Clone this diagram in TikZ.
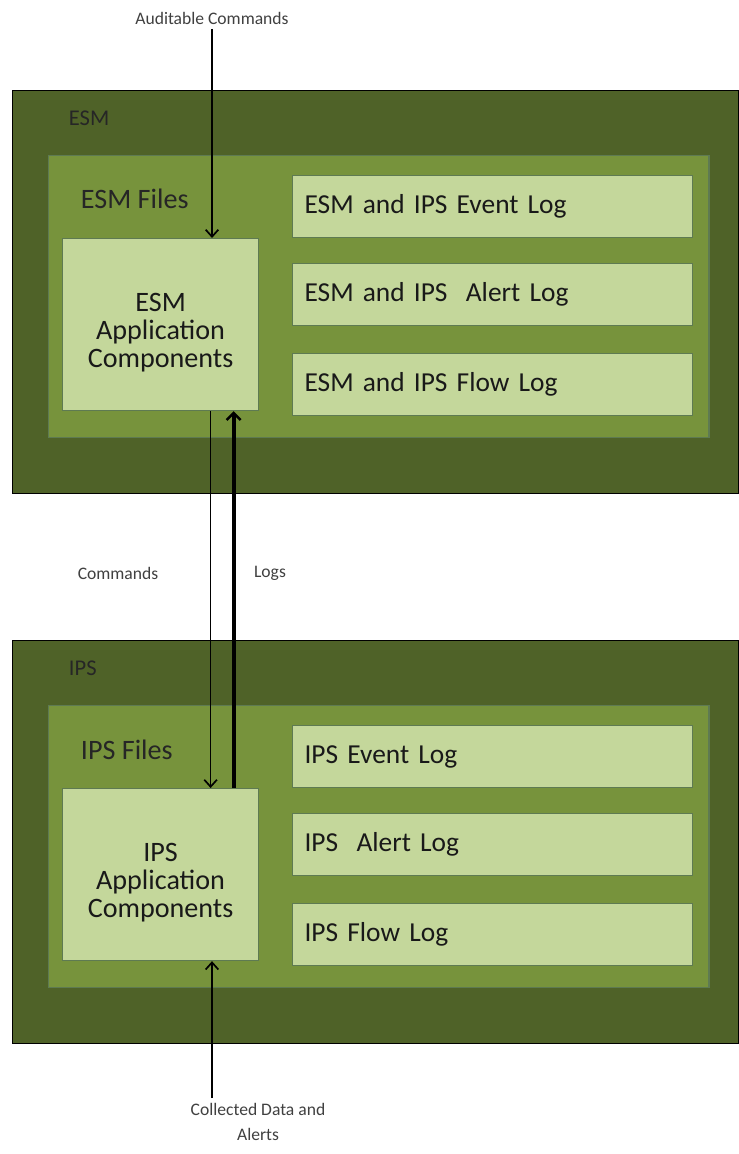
\documentclass[tikz,border=0pt]{standalone}
\usepackage{fontspec}
\setmainfont{Carlito}
\usetikzlibrary{arrows.meta}
\definecolor{oliveout}{HTML}{4F6228}
\definecolor{olivein}{HTML}{77933C}
\definecolor{olivelight}{HTML}{C4D79B}
\definecolor{oliveedge}{HTML}{5E7A52}
\begin{document}
\begin{tikzpicture}[x=0.025cm,y=-0.025cm,
outerbox/.style={draw=black, line width=0.6pt, fill=oliveout, anchor=north west,
  minimum width=18.15cm, minimum height=10.075cm, inner sep=0pt},
filesbox/.style={draw=oliveedge, line width=1pt, fill=olivein, anchor=north west,
  minimum width=16.5cm, minimum height=7.05cm, inner sep=0pt},
appbox/.style={draw=oliveedge, line width=0.8pt, fill=olivelight, anchor=north west,
  minimum width=4.9cm, minimum height=4.3cm, align=center,
  font=\fontsize{20}{20}\selectfont},
apptext/.style={align=center, font=\fontsize{20}{20}\selectfont, text=black!90},
logbox/.style={draw=oliveedge, line width=0.8pt, fill=olivelight, anchor=north west,
  minimum width=10cm, minimum height=1.55cm, text width=9.4cm, align=left,
  font=\fontsize{19.5}{22}\selectfont, text=black!90},
title/.style={anchor=west, font=\fontsize{16}{19}\selectfont, text=black!85},
note/.style={font=\fontsize{12.5}{18}\selectfont, text=black!75, align=center},
thin/.style={-{Straight Barb[length=5pt,width=9pt,line width=1.2pt]}, line width=0.8pt},
thick/.style={-{Straight Barb[length=5pt,width=10pt,line width=1.8pt]}, line width=2.8pt}
]
\useasboundingbox (0,0) rectangle (738,1154);

% ESM side
\node[outerbox] (esm) at (12,90) {};
\node[title] (esmlabel) at (64,118) {ESM};
\node[filesbox] (esmfiles) at (48,155) {};
\node[title, font=\fontsize{20}{22}\selectfont] (esmfileslabel) at (76,199) {ESM Files};
\node[appbox] (esmapp) at (62,238) {};
\node[apptext] (esmapptext) at ([yshift=-0.2cm]esmapp.center) {ESM\\Application\\Components};
\node[logbox] (esmevent) at (292,175) {ESM and IPS Event Log};
\node[logbox] (esmalert) at (292,263) {ESM and IPS\ \ Alert Log};
\node[logbox] (esmflow) at (292,353) {ESM and IPS Flow Log};

% IPS side
\node[outerbox] (ips) at (12,640) {};
\node[title] (ipslabel) at (64,668) {IPS};
\node[filesbox] (ipsfiles) at (48,705) {};
\node[title, font=\fontsize{20}{22}\selectfont] (ipsfileslabel) at (76,750) {IPS Files};
\node[appbox] (ipsapp) at (62,788) {};
\node[apptext] (ipsapptext) at ([yshift=-0.2cm]ipsapp.center) {IPS\\Application\\Components};
\node[logbox] (ipsevent) at (292,725) {IPS Event Log};
\node[logbox] (ipsalert) at (292,813) {IPS\ \ Alert Log};
\node[logbox] (ipsflow) at (292,903) {IPS Flow Log};

% notes
\node[note] (audit) at (212,18) {Auditable Commands};
\node[note] (cmds) at (118,573) {Commands};
\node[note] (logs) at (270,573) {Logs};
\node[note] (collected) at (258,1122) {Collected Data and\\Alerts};

% arrows
\draw[thin] (audit.south) ++(0,-0.3) -- (audit.south |- esmapp.north);
\draw[thin] ([xshift=1.25cm]esmapp.south) -- ([xshift=1.25cm]ipsapp.north);
\draw[thick] ([xshift=1.825cm]ipsapp.north) -- ([xshift=1.825cm]esmapp.south);
\draw[thin] (collected.north -| audit) -- (audit |- ipsapp.south);

\end{tikzpicture}
\end{document}
